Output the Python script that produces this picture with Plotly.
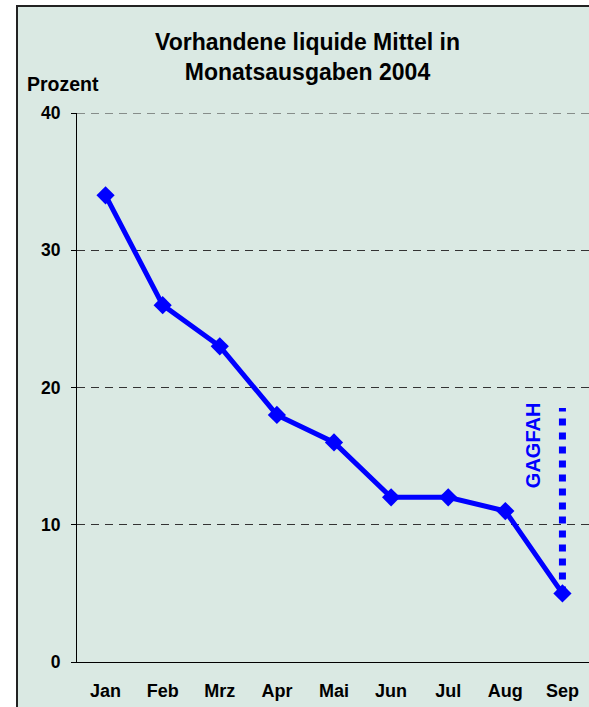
import plotly.graph_objects as go

FONT = "Liberation Sans, Arial, sans-serif"
BG = "#dae9e3"
BLUE = "#0000ff"

months = ["Jan", "Feb", "Mrz", "Apr", "Mai", "Jun", "Jul", "Aug", "Sep"]
prozent = [34, 26, 23, 18, 16, 12, 12, 11, 5]
y_ticks = [0, 10, 20, 30, 40]

# GAGFAH marker: dotted line at Sep
gagfah_month = "Sep"
gagfah_span = [5, 18.5]

W, H = 589, 707
L, R, T, B = 77, 0, 113, 45
pw = W - L - R
ph = H - T - B


def px_x(px):
    return (px - L) / pw


def px_y(py):
    return (H - B - py) / ph


fig = go.Figure()

fig.add_trace(
    go.Scatter(
        x=[gagfah_month, gagfah_month],
        y=gagfah_span,
        mode="lines",
        line=dict(color=BLUE, width=7, dash="7px,7px"),
        hoverinfo="skip",
        showlegend=False,
    )
)

fig.add_trace(
    go.Scatter(
        x=months,
        y=prozent,
        mode="lines+markers",
        line=dict(color=BLUE, width=5),
        marker=dict(symbol="diamond", size=14, color=BLUE),
        showlegend=False,
    )
)

# chart frame
fig.add_shape(
    type="rect",
    xref="paper",
    yref="paper",
    x0=px_x(17),
    x1=px_x(W + 20),
    y0=px_y(H + 20),
    y1=px_y(6),
    fillcolor=BG,
    line=dict(color="#222222", width=2),
    layer="below",
)

# top gridline (plotly drops the one on the plot edge)
fig.add_shape(
    type="line",
    xref="paper",
    yref="y",
    x0=0,
    x1=1,
    y0=y_ticks[-1],
    y1=y_ticks[-1],
    line=dict(color="#333333", width=1, dash="8px,6px"),
)

fig.add_annotation(
    text="Vorhandene liquide Mittel in<br>Monatsausgaben 2004",
    xref="paper",
    yref="paper",
    x=px_x(307),
    y=px_y(56.5),
    xanchor="center",
    yanchor="middle",
    showarrow=False,
    font=dict(family=FONT, size=23, color="#000000", weight="bold"),
    align="center",
)

fig.add_annotation(
    text="Prozent",
    xref="paper",
    yref="paper",
    x=px_x(62.5),
    y=px_y(84),
    xanchor="center",
    yanchor="middle",
    showarrow=False,
    font=dict(family=FONT, size=19.5, color="#000000", weight="bold"),
)

fig.add_annotation(
    text="GAGFAH",
    xref="paper",
    yref="y",
    x=px_x(533),
    y=15.8,
    xanchor="center",
    yanchor="middle",
    textangle=-90,
    showarrow=False,
    font=dict(family=FONT, size=20, color=BLUE, weight="bold"),
)

fig.update_layout(
    width=W,
    height=H,
    margin=dict(l=L, r=R, t=T, b=B),
    paper_bgcolor="#ffffff",
    plot_bgcolor="rgba(0,0,0,0)",
    font=dict(family=FONT, color="#000000"),
)

fig.update_xaxes(
    type="category",
    categoryorder="array",
    categoryarray=months,
    range=[-0.5, 8.465],
    showgrid=False,
    showline=True,
    linecolor="#000000",
    linewidth=1,
    ticks="",
    ticklabelstandoff=12,
    tickfont=dict(family=FONT, size=18, weight="bold"),
    fixedrange=True,
)

fig.update_yaxes(
    range=[0, 40],
    tickvals=y_ticks,
    showgrid=True,
    gridcolor="#333333",
    gridwidth=1,
    griddash="8px,6px",
    showline=True,
    linecolor="#000000",
    linewidth=1,
    ticks="outside",
    ticklen=5,
    tickcolor="#000000",
    ticklabelstandoff=7,
    zeroline=False,
    tickfont=dict(family=FONT, size=17.5, weight="bold"),
    fixedrange=True,
)

# drop the default body margin so the figure fills the window
fig.write_html(
    "out.html",
    config={"displayModeBar": False},
    post_script="document.body.style.margin='0';document.body.style.overflow='hidden';",
)
